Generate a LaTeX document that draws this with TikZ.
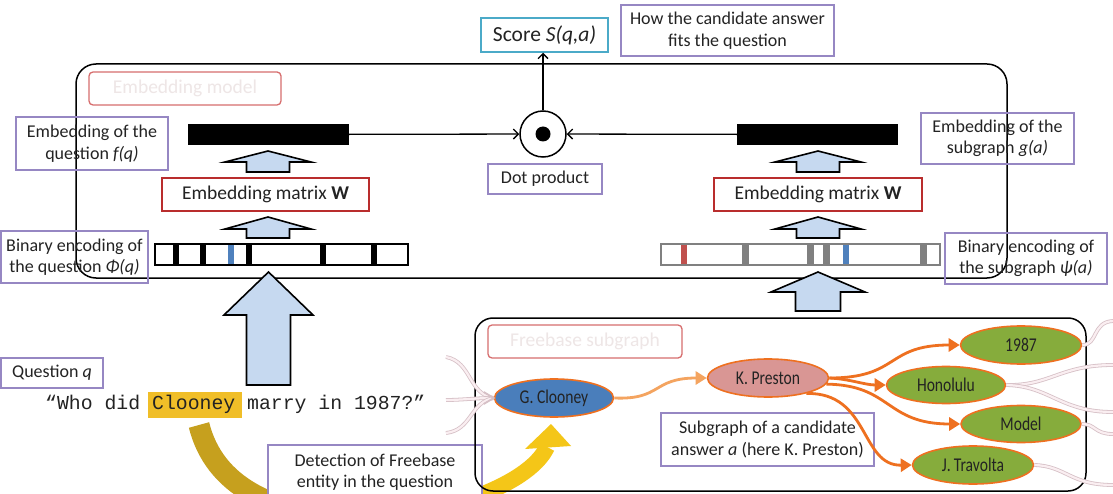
\documentclass[tikz,border=0pt]{standalone}
\usepackage{fontspec}
\setmainfont{Carlito}
\newfontfamily\condfont[FakeStretch=0.8]{Carlito}
\newfontfamily\qmono{Liberation Mono}
\usetikzlibrary{arrows.meta,shapes.geometric}
\definecolor{pborder}{RGB}{150,135,195}
\definecolor{rborder}{RGB}{185,45,45}
\definecolor{lborder}{RGB}{215,110,110}
\definecolor{lbltext}{RGB}{238,230,230}
\definecolor{cborder}{RGB}{75,170,200}
\definecolor{ablue}{RGB}{198,217,240}
\definecolor{txt}{RGB}{35,35,35}
\definecolor{nblue}{RGB}{74,126,187}
\definecolor{npink}{RGB}{217,150,148}
\definecolor{ngreen}{RGB}{134,172,60}
\definecolor{norange}{RGB}{238,112,32}
\definecolor{lorange}{RGB}{244,164,96}
\definecolor{hlyellow}{RGB}{240,190,40}
\definecolor{goldL}{RGB}{198,160,30}
\definecolor{goldR}{RGB}{244,198,24}
\definecolor{tickgray}{RGB}{128,128,128}
\definecolor{tickblue}{RGB}{79,129,189}
\definecolor{tickred}{RGB}{192,80,77}
\definecolor{pinkedge}{RGB}{214,192,198}
\definecolor{pinkfill}{RGB}{250,238,241}
\newcommand\lblfont{\fontsize{18}{21.5}\selectfont}
\newcommand\ellfont{\condfont\fontsize{19.5}{21}\selectfont}
% cx, tip, head base, bottom, half head, half shaft
\newcommand\blockup[6]{\draw[blockarr] (#1,#2) -- ({#1+#5},#3) -- ({#1+#6},#3) -- ({#1+#6},#4) -- ({#1-#6},#4) -- ({#1-#6},#3) -- ({#1-#5},#3) -- cycle;}
\begin{document}
\begin{tikzpicture}[x=1pt,y=-1pt,
 pbox/.style={draw=pborder,line width=1.3pt,inner sep=0pt,align=center,text=txt,font=\lblfont},
 rbox/.style={draw=rborder,line width=1.5pt,inner sep=0pt,align=center,text=txt,font=\fontsize{19.5}{22}\selectfont},
 tagbox/.style={draw=lborder,line width=1.3pt,rounded corners=4pt,inner sep=0pt,text=lbltext,font=\fontsize{19.5}{22}\selectfont},
 frame/.style={draw=black,line width=1.5pt,rounded corners=20pt},
 bar/.style={fill=black,inner sep=0pt},
 codebar/.style={draw=black,line width=1.5pt,inner sep=0pt,fill=white},
 blockarr/.style={fill=ablue,draw=black,line width=1.6pt,line join=miter},
 link/.style={line width=1.3pt,-{Straight Barb[length=5pt,width=10pt]}},
 ent/.style={ellipse,draw=norange,line width=1.6pt,inner sep=0pt,text=txt,font=\ellfont},
 rel/.style={draw=norange,line width=2.8pt,-{Triangle[length=11pt,width=13pt]}},
 fade/.style={draw=pinkedge,double=pinkfill,double distance=2.2pt,line width=0.8pt},
]
\useasboundingbox (0,0) rectangle (1113,494);
\clip (0,0) rectangle (1113,494);
\fill[white] (0,0) rectangle (1113,494);

% ---------- top ----------
\node[draw=cborder,line width=1.5pt,inner sep=0pt,minimum width=127pt,minimum height=34pt,text=txt,font=\fontsize{21.5}{24}\selectfont] (score) at (544.5,35) {Score \textit{S(q,a)}};
\node[pbox,minimum width=213pt,minimum height=51pt] (how) at (727.5,30.5) {How the candidate answer\\fits the question};

% ---------- embedding model ----------
\draw[frame] (76,64) rectangle (1007,278);
\node[tagbox,minimum width=192pt,minimum height=33pt] (embtag) at (185,88.5) {Embedding model};

\node[pbox,minimum width=152pt,minimum height=53pt] (embq) at (92,143.5) {Embedding of the\\question \textit{f(q)}};
\node[pbox,minimum width=153pt,minimum height=51pt] (embs) at (997.5,138.5) {Embedding of the\\subgraph \textit{g(a)}};

\node[bar,minimum width=161pt,minimum height=21pt] (fq) at (268.5,134.5) {};
\node[bar,minimum width=161pt,minimum height=21pt] (ga) at (817.5,134.5) {};
\node[circle,draw,line width=1.5pt,minimum size=46pt,inner sep=0pt] (dot) at (543,134) {};
\fill (dot.center) circle (7.5);
\draw[link] (fq) -- (dot);
\draw[link] (ga) -- (dot);
\draw[link] (dot.north) -- (dot.north |- score.south);
\node[pbox,minimum width=114pt,minimum height=30pt] (dotp) at (545,179) {Dot product};

\node[rbox,minimum width=207pt,minimum height=33pt] (WL) at (265.5,194.5) {Embedding matrix \textbf{W}};
\node[rbox,minimum width=208pt,minimum height=33pt] (WR) at (818,194.5) {Embedding matrix \textbf{W}};

% binary encodings
\node[codebar,minimum width=253pt,minimum height=21pt] (phiq) at (281.5,254.5) {};
\foreach \t in {176,203,249,323,374} \fill (\t-3,245) rectangle (\t+3,264);
\fill[tickblue] (228,245) rectangle (234,264);
\node[codebar,draw=tickgray,minimum width=279pt,minimum height=21pt] (psia) at (800.5,254.5) {};
\foreach \t in {745,810,826,923} \fill[tickgray] (\t-3.5,245) rectangle (\t+3.5,264);
\fill[tickred] (681,245) rectangle (687,264);
\fill[tickblue] (843,245) rectangle (849,264);

\node[pbox,minimum width=147pt,minimum height=52pt] (binq) at (74.5,257) {Binary encoding of\\the question \textit{Φ(q)}};
\node[pbox,minimum width=162pt,minimum height=51pt] (bins) at (1026,258.5) {Binary encoding of\\the subgraph \textit{ψ(a)}};

% block arrows
\blockup{268}{151}{162}{172}{43}{21.5}
\blockup{268}{217}{229}{238}{43}{21.5}
\blockup{818}{151}{162}{172}{43}{21.5}
\blockup{818}{217}{229}{238}{43}{21.5}
\blockup{268.5}{272}{315}{385}{44.5}{22}
\blockup{818}{272}{292}{311}{47}{22.5}

% ---------- question ----------
\fill[hlyellow] (148,392) rectangle (242,418);
\node[anchor=base west,inner sep=0pt,font=\qmono\fontsize{19.8}{22}\selectfont,text=txt] (quote) at (45,409) {“Who did Clooney marry in 1987?”};
\node[pbox,minimum width=102pt,minimum height=30pt] (qq) at (52,373) {Question \textit{q}};

% gold detection arrow
\begin{scope}
 \clip (0,400) rectangle (372,520);
 \draw[goldL,line width=21pt] (199,425) .. controls (214,485) and (270,515) .. (365,521) .. controls (430,517) and (528,488) .. (547,447);
\end{scope}
\begin{scope}
 \clip (372,400) rectangle (600,520);
 \draw[goldR,line width=16pt] (199,425) .. controls (214,485) and (270,515) .. (365,521) .. controls (430,517) and (528,488) .. (547,447);
\end{scope}
\fill[goldR] (551,424) -- (571,446) -- (525,449) -- cycle;

\node[pbox,fill=white,minimum width=214pt,minimum height=54pt] (det) at (375,472) {Detection of Freebase\\entity in the question};

% ---------- freebase subgraph ----------
\draw[frame,rounded corners=18pt] (475,318) rectangle (1086,491);
\node[tagbox,minimum width=194pt,minimum height=33pt] (fbtag) at (585,341.5) {Freebase subgraph};

\node[ent,fill=nblue,minimum width=119pt,minimum height=38pt] (gc) at (554,398) {G. Clooney};
\node[ent,fill=npink,minimum width=121pt,minimum height=38pt] (kp) at (768,378) {K. Preston};
\node[ent,fill=ngreen,minimum width=121pt,minimum height=38pt] (y87) at (1021,345) {1987};
\node[ent,fill=ngreen,minimum width=119pt,minimum height=37pt] (hon) at (946,385) {Honolulu};
\node[ent,fill=ngreen,minimum width=120pt,minimum height=37pt] (mod) at (1021,424) {Model};
\node[ent,fill=ngreen,minimum width=121pt,minimum height=38pt] (jt) at (973,465) {J.\,Travolta};

\node[pbox,minimum width=213pt,minimum height=53pt] (subg) at (767.5,439.5) {Subgraph of a candidate\\answer \textit{a} (here K. Preston)};

\draw[rel,draw=lorange] (gc.east) .. controls (662,400) and (652,378) .. (kp.west);
\draw[rel] (kp.east) .. controls (900,378) and (885,345) .. (y87.west);
\draw[rel] (kp.east) .. controls (850,379) and (865,385) .. (hon.west);
\draw[rel] (kp.-6) .. controls (892,385) and (885,424) .. (mod.west);
\draw[rel] (kp.-22) .. controls (870,392) and (860,466) .. (jt.west);

% faded outside edges
\coordinate (in1) at (446,357);
\coordinate (in2) at (446,400);
\coordinate (in3) at (446,433);
\draw[fade] (in1) .. controls (472,362) and (468,394) .. (gc.west);
\draw[fade] (in2) .. controls (462,400) and (475,398) .. (gc.west);
\draw[fade] (in3) .. controls (472,430) and (470,402) .. (gc.west);
\draw[pinkedge,line width=1.8pt] ([shift={(-10,-6)}]gc.west) -- (gc.west) -- ([shift={(-10,6)}]gc.west);

\coordinate (o1) at (1113,321);
\coordinate (o2) at (1113,365);
\coordinate (o3) at (1113,412);
\coordinate (o4) at (1113,434);
\coordinate (o5) at (1113,485);
\draw[fade] (y87.east) .. controls (1098,345) and (1092,322) .. (o1);
\draw[fade] (hon.east) .. controls (1050,386) and (1060,365) .. (o2);
\draw[fade] (hon.east) .. controls (1050,386) and (1060,412) .. (o3);
\draw[fade] (mod.east) .. controls (1096,424) and (1094,434) .. (o4);
\draw[fade] (jt.east) .. controls (1066,466) and (1070,485) .. (o5);
\end{tikzpicture}
\end{document}
